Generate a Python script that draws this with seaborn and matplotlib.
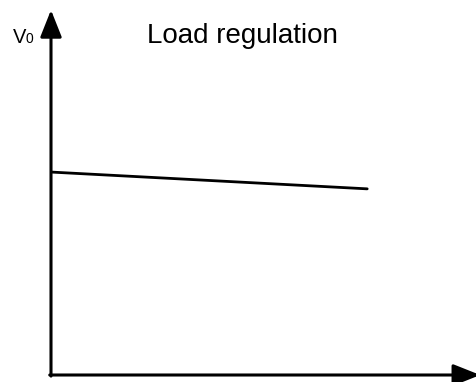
import matplotlib
matplotlib.use("Agg")
import matplotlib.pyplot as plt
import seaborn as sns
import pandas as pd

# Output voltage versus load current (normalised units)
load_current = [0.0, 0.744]
output_voltage = [0.556, 0.510]

title_text = "Load regulation"
y_label = "V"
y_label_sub = "0"

sns.set_theme(style="white")
plt.rcParams["font.family"] = ["Liberation Sans", "DejaVu Sans"]

W, H = 476, 382
fig = plt.figure(figsize=(W / 100, H / 100), dpi=100)
ax = fig.add_axes([51 / W, (H - 375) / H, (W - 51) / W, (375 - 10) / H])

df = pd.DataFrame({"load": load_current, "vout": output_voltage})
sns.lineplot(data=df, x="load", y="vout", ax=ax, color="black", linewidth=2.0)

ax.set_xlim(0, 1)
ax.set_ylim(0, 1)
ax.set_xticks([])
ax.set_yticks([])
ax.set_xlabel("")
ax.set_ylabel("")
for s in ax.spines.values():
    s.set_visible(False)

arrow_style = "-|>,head_length=0.83,head_width=0.33"
common = dict(xycoords="axes fraction", textcoords="axes fraction",
              annotation_clip=False)
ax.annotate("", xy=(0, 1.0), xytext=(0, -0.003),
            arrowprops=dict(arrowstyle=arrow_style, lw=2.2, color="black",
                            mutation_scale=20, shrinkA=0, shrinkB=0),
            **common)
ax.annotate("", xy=(1.01, 0), xytext=(-0.003, 0),
            arrowprops=dict(arrowstyle=arrow_style, lw=2.2, color="black",
                            mutation_scale=20, shrinkA=0, shrinkB=0),
            **common)

fig.text(242 / W, 1 - 43 / H, title_text, ha="center", va="baseline",
         fontsize=20, color="black")
fig.text(13 / W, 1 - 43 / H, y_label, ha="left", va="baseline",
         fontsize=14.5, color="black")
fig.text(26 / W, 1 - 43 / H, y_label_sub, ha="left", va="baseline",
         fontsize=10, color="black")

fig.savefig("out.png", dpi=100, facecolor="white")
